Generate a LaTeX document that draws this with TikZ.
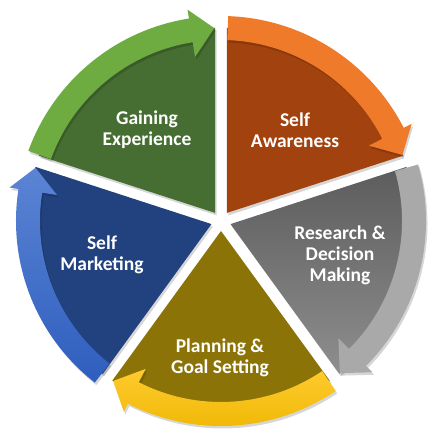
\documentclass[tikz,border=0pt]{standalone}
\usepackage{fontspec}
\setmainfont{Carlito}
\definecolor{greenpie}{HTML}{466D32}
\definecolor{greenarr}{HTML}{6EAC42}
\definecolor{orangepie}{HTML}{A2430F}
\definecolor{orangearr}{HTML}{EE7A2A}
\definecolor{graypieT}{HTML}{5C5C5C}
\definecolor{graypieB}{HTML}{8E8E8E}
\definecolor{grayarr}{HTML}{A9A9A9}
\definecolor{olivepie}{HTML}{8B7307}
\definecolor{yellowT}{HTML}{FFCB2E}
\definecolor{yellowB}{HTML}{EDB600}
\definecolor{bluepie}{HTML}{22427F}
\definecolor{blueT}{HTML}{5B84D4}
\definecolor{blueB}{HTML}{2E5EBE}
\newcommand\segpath[1]{(#1:10) -- ++(#1+36:185) arc[start angle=#1+36, end angle=#1-36, radius=185] -- cycle}
\newcommand\arwpath[2]{(#1:205) arc[start angle=#1, end angle=#2+7, radius=205] -- (#2+7:214) -- (#2:193) -- (#2+7:166) -- (#2+7:181) arc[start angle=#2+7, end angle=#1, radius=181] -- cycle}
\begin{document}
\begin{tikzpicture}[x=1pt,y=1pt,
  lbl/.style={text=white,font=\bfseries\fontsize{19.5}{21}\selectfont,align=center},
  shd/.style={fill=black,opacity=0.16,shift={(1.5,-2.5)}}]
\useasboundingbox (-221,-222) rectangle (214,221);
% segment shadows
\foreach \m in {126,54,-18,-90,198} { \fill[shd] \segpath{\m}; }
% segments
\fill[greenpie] \segpath{126};
\fill[orangepie] \segpath{54};
\shade[top color=graypieT,bottom color=graypieB] \segpath{-18};
\fill[olivepie] \segpath{-90};
\fill[bluepie] \segpath{198};
% arrow shadows
\fill[shd] \arwpath{160}{92};
\fill[shd] \arwpath{88}{20};
\fill[shd] \arwpath{16}{-52};
\fill[shd] \arwpath{-56}{-124};
\fill[shd] \arwpath{-128}{-196};
% arrows
\fill[greenarr] \arwpath{160}{92};
\fill[orangearr] \arwpath{88}{20};
\fill[grayarr] \arwpath{16}{-52};
\shade[top color=yellowT,bottom color=yellowB] \arwpath{-56}{-124};
\shade[top color=blueT,bottom color=blueB] \arwpath{-128}{-196};
% labels
\node[lbl] (gain) at (-74,91) {Gaining\\Experience};
\node[lbl] (aware) at (74,91) {Self\\Awareness};
\node[lbl] (research) at (119,-34) {Research \&\\Decision\\Making};
\node[lbl] (plan) at (-1,-137) {Planning \&\\Goal Setting};
\node[lbl] (market) at (-119,-34) {Self\\Marketing};
\end{tikzpicture}
\end{document}
